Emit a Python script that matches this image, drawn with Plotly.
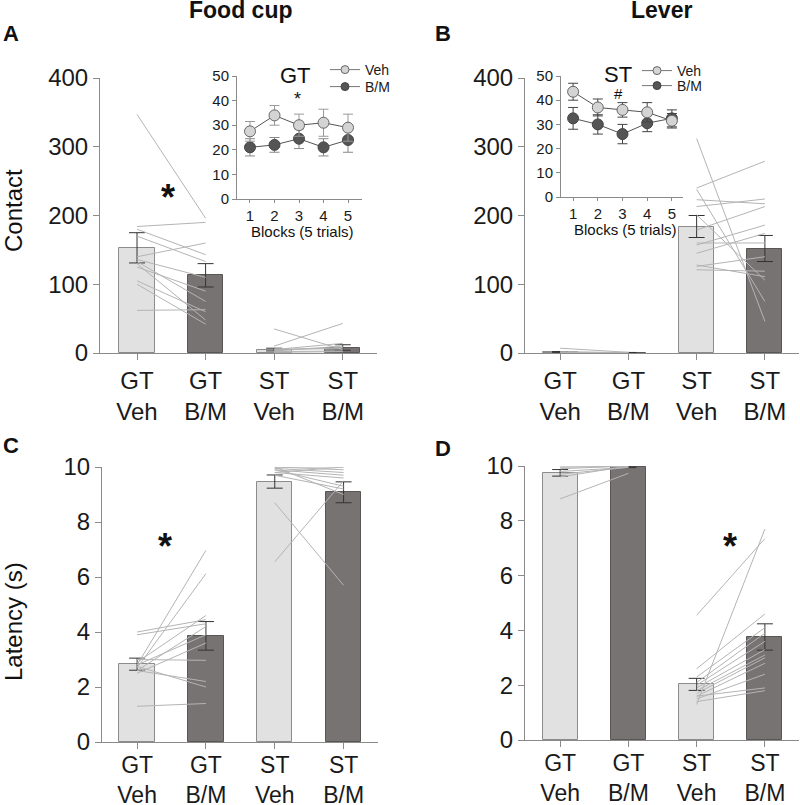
import plotly.graph_objects as go

W, H = 800, 805
FONT = "Liberation Sans, Arial, sans-serif"

# ---------------- data ----------------
cat_pos = [0, 1, 2, 3]
cat_labels = ["GT<br>Veh", "GT<br>B/M", "ST<br>Veh", "ST<br>B/M"]
blocks = [1, 2, 3, 4, 5]

# A: Food cup contact
a_mean = [153, 113, 5, 8]
a_sem = [22, 17, 2, 4]
a_gt_veh = [347, 184, 180, 170, 140, 136, 133, 130, 105, 100, 62, 125]
a_gt_bm = [196, 190, 143, 133, 160, 110, 75, 48, 60, 42, 63, 90]
a_st_veh = [35, 10, 5, 3, 2, 1, 4, 6]
a_st_bm = [5, 43, 14, 10, 3, 2, 8, 6]

# B: Lever contact
b_mean = [1.5, 0.5, 184, 152]
b_sem = [0.6, 0.3, 16, 19]
b_gt_veh = [7, 2, 1, 0.5]
b_gt_bm = [1, 0.5, 0.5, 0.2]
b_st_veh = [312, 240, 238, 223, 213, 201, 179, 157, 145, 128, 126, 121, 160]
b_st_bm = [46, 279, 75, 217, 224, 106, 213, 186, 174, 111, 140, 119, 160]

# C: Food cup latency
c_mean = [2.83, 3.86, 9.47, 9.08]
c_sem = [0.22, 0.52, 0.24, 0.38]
c_gt_veh = [2.8, 2.7, 4.0, 2.9, 2.6, 2.8, 2.5, 3.0, 2.6, 2.75, 1.3, 3.9]
c_gt_bm = [6.97, 6.12, 4.45, 4.6, 4.2, 3.9, 3.6, 2.97, 2.2, 2.0, 1.4, 4.3]
c_st_veh = [8.7, 6.55, 10, 10, 9.9, 9.8, 9.7, 10, 9.9, 9.8, 9.95]
c_st_bm = [5.7, 9.5, 10, 9.9, 9.3, 9.6, 9.2, 9.0, 9.7, 10, 9.8]

# D: Lever latency
d_mean = [9.75, 9.97, 2.03, 3.76]
d_sem = [0.12, 0.03, 0.22, 0.48]
d_gt_veh = [8.8, 9.7, 9.6, 10, 9.9, 9.8, 9.95]
d_gt_bm = [9.73, 9.95, 10, 10, 10, 9.95, 10]
d_st_veh = [4.55, 1.3, 2.6, 2.3, 2.1, 2.0, 1.9, 1.8, 1.7, 1.6, 1.5, 1.4, 1.6]
d_st_bm = [7.35, 7.7, 4.6, 4.1, 3.9, 3.6, 3.3, 3.1, 3.0, 2.8, 2.4, 1.8, 1.9]

# Insets (contacts per block)
gt_blk_veh = [27.5, 34, 30, 31, 29]
gt_blk_veh_err = [4, 4, 4.5, 5.5, 5.5]
gt_blk_bm = [21, 22, 24.5, 21, 24]
gt_blk_bm_err = [3.5, 3, 4, 3.5, 5]
st_blk_veh = [43.5, 37, 36, 35, 31.5]
st_blk_veh_err = [3.5, 3.5, 3, 4, 3]
st_blk_bm = [32.5, 30, 26, 30.5, 32.5]
st_blk_bm_err = [4.5, 4, 4, 3.5, 3.5]

# ---------------- helpers ----------------
def px(x):
    return x / W

def py(y):
    return 1 - y / H

VEH_COL = "#e1e1e1"
BM_COL = "#787373"
LINE_COL = "#b4b4b4"
AX_COL = "#8a8a8a"

fig = go.Figure()

def add_panel(idx, mean, sem, gt_veh, gt_bm, st_veh, st_bm):
    xa = "x" if idx == 1 else f"x{idx}"
    ya = "y" if idx == 1 else f"y{idx}"
    fig.add_trace(go.Bar(
        x=cat_pos, y=mean, width=0.515, xaxis=xa, yaxis=ya,
        marker=dict(color=[VEH_COL, BM_COL, VEH_COL, BM_COL],
                    line=dict(color=["#8c8c8c", "#5a5656", "#8c8c8c", "#5a5656"], width=1)),
        error_y=dict(type="data", array=sem, color="#333333", thickness=1, width=8),
        showlegend=False, hoverinfo="skip"))
    for (v, b, x0, x1) in [(gt_veh, gt_bm, cat_pos[0], cat_pos[1]),
                           (st_veh, st_bm, cat_pos[2], cat_pos[3])]:
        xs, ys = [], []
        for a, c in zip(v, b):
            xs += [x0, x1, None]
            ys += [a, c, None]
        fig.add_trace(go.Scatter(x=xs, y=ys, mode="lines", xaxis=xa, yaxis=ya,
                                 line=dict(color=LINE_COL, width=1),
                                 showlegend=False, hoverinfo="skip"))

add_panel(1, a_mean, a_sem, a_gt_veh, a_gt_bm, a_st_veh, a_st_bm)
add_panel(2, b_mean, b_sem, b_gt_veh, b_gt_bm, b_st_veh, b_st_bm)
add_panel(3, c_mean, c_sem, c_gt_veh, c_gt_bm, c_st_veh, c_st_bm)
add_panel(4, d_mean, d_sem, d_gt_veh, d_gt_bm, d_st_veh, d_st_bm)

VEH_MK = dict(color="#d4d4d4", line=dict(color="#666666", width=1))
BM_MK = dict(color="#555555", line=dict(color="#444444", width=1))

def add_inset(idx, veh, veh_err, bm, bm_err, leg_veh, leg_bm, veh_err_col, bm_err_col):
    xa, ya = f"x{idx}", f"y{idx}"
    fig.add_trace(go.Scatter(
        x=blocks, y=bm, mode="lines+markers", name="B/M", xaxis=xa, yaxis=ya,
        line=dict(color="#555555", width=1), marker=dict(size=11, **BM_MK),
        error_y=dict(type="data", array=bm_err, color=bm_err_col, thickness=1, width=5),
        showlegend=False, hoverinfo="skip"))
    fig.add_trace(go.Scatter(
        x=blocks, y=veh, mode="lines+markers", name="Veh", xaxis=xa, yaxis=ya,
        line=dict(color="#555555", width=1), marker=dict(size=11, **VEH_MK),
        error_y=dict(type="data", array=veh_err, color=veh_err_col, thickness=1, width=5),
        showlegend=False, hoverinfo="skip"))
    # legend-only entries (smaller symbols, as in the figure key)
    fig.add_trace(go.Scatter(x=[None], y=[None], mode="lines+markers", name="Veh",
                             xaxis=xa, yaxis=ya, line=dict(color="#777777", width=1),
                             marker=dict(size=8, **VEH_MK), legend=leg_veh))
    fig.add_trace(go.Scatter(x=[None], y=[None], mode="lines+markers", name="B/M",
                             xaxis=xa, yaxis=ya, line=dict(color="#777777", width=1),
                             marker=dict(size=8, **BM_MK), legend=leg_bm))

add_inset(5, gt_blk_veh, gt_blk_veh_err, gt_blk_bm, gt_blk_bm_err, "legend", "legend2", "#999999", "#888888")
add_inset(6, st_blk_veh, st_blk_veh_err, st_blk_bm, st_blk_bm_err, "legend3", "legend4", "#444444", "#444444")

main_x = dict(showline=True, linecolor=AX_COL, linewidth=1, ticks="outside", ticklen=6,
              tickcolor=AX_COL, showgrid=False, zeroline=False, automargin=False,
              tickvals=cat_pos, ticktext=cat_labels,
              tickfont=dict(family=FONT, size=24, color="#1a1a1a"))
low_x = dict(main_x, tickfont=dict(family=FONT, size=23, color="#1a1a1a"), ticklabelstandoff=-4)
main_y = dict(showline=True, linecolor=AX_COL, linewidth=1, ticks="outside", ticklen=6,
              tickcolor=AX_COL, showgrid=False, zeroline=False, automargin=False,
              tickfont=dict(family=FONT, size=24, color="#1a1a1a"))
inset_x = dict(showline=True, linecolor=AX_COL, linewidth=1, ticks="outside", ticklen=3,
               tickcolor=AX_COL, showgrid=False, zeroline=False, tickvals=blocks, automargin=False,
               tickfont=dict(family=FONT, size=15, color="#1a1a1a"))
inset_y = dict(showline=True, linecolor=AX_COL, linewidth=1, ticks="outside", ticklen=4,
               tickcolor=AX_COL, showgrid=False, zeroline=False, range=[0, 50], automargin=False,
               tickvals=[0, 10, 20, 30, 40, 50],
               tickfont=dict(family=FONT, size=15, color="#1a1a1a"))

def leg(x, y):
    return dict(x=px(x), y=py(y), xanchor="left", yanchor="middle", bgcolor="rgba(0,0,0,0)",
                font=dict(family=FONT, size=14, color="#1a1a1a"), itemwidth=30)

fig.update_layout(
    width=W, height=H, margin=dict(l=0, r=0, t=0, b=0, autoexpand=False),
    paper_bgcolor="white", plot_bgcolor="rgba(0,0,0,0)",
    bargap=0,
    xaxis=dict(main_x, domain=[px(100), px(377)], range=[-0.54, 3.5], anchor="y"),
    yaxis=dict(main_y, domain=[py(353), py(78)], range=[0, 400], tickvals=[0, 100, 200, 300, 400], anchor="x"),
    xaxis2=dict(main_x, domain=[px(525), px(799)], range=[-0.515, 3.5], anchor="y2"),
    yaxis2=dict(main_y, domain=[py(353), py(78)], range=[0, 400], tickvals=[0, 100, 200, 300, 400], anchor="x2"),
    xaxis3=dict(low_x, domain=[px(102), px(378)], range=[-0.51, 3.5], anchor="y3"),
    yaxis3=dict(main_y, domain=[py(742), py(467)], range=[0, 10], tickvals=[0, 2, 4, 6, 8, 10], anchor="x3"),
    xaxis4=dict(low_x, domain=[px(525), px(799)], range=[-0.515, 3.5], anchor="y4"),
    yaxis4=dict(main_y, domain=[py(740), py(466)], range=[0, 10], tickvals=[0, 2, 4, 6, 8, 10], anchor="x4"),
    xaxis5=dict(inset_x, domain=[px(237), px(362)], range=[0.47, 5.57], anchor="y5"),
    yaxis5=dict(inset_y, domain=[py(199), py(76)], anchor="x5"),
    xaxis6=dict(inset_x, domain=[px(561), px(683)], range=[0.51, 5.45], anchor="y6"),
    yaxis6=dict(inset_y, domain=[py(197), py(76)], anchor="x6"),
    legend=leg(325, 70),
    legend2=leg(325, 87),
    legend3=leg(637, 71),
    legend4=leg(637, 86),
)

def ann(text, x, y, size, bold=False, angle=0, color="#111111"):
    fig.add_annotation(text=f"<b>{text}</b>" if bold else text, x=px(x), y=py(y),
                       xref="paper", yref="paper", showarrow=False, textangle=angle,
                       font=dict(family=FONT, size=size, color=color),
                       xanchor="center", yanchor="middle")

ann("Food cup", 240, 10, 23, bold=True)
ann("Lever", 661, 10, 23, bold=True)
ann("A", 11, 34, 22, bold=True)
ann("B", 443, 34, 22, bold=True)
ann("C", 11, 445, 22, bold=True)
ann("D", 443, 448, 22, bold=True)
ann("Contact", 13, 211, 24, angle=-90)
ann("Latency (s)", 13, 622, 24, angle=-90)
ann("*", 168, 198, 36, bold=True)
ann("*", 165, 546, 36, bold=True)
ann("*", 730, 546, 36, bold=True)
ann("*", 297, 99, 18)
ann("#", 618, 94, 15)
ann("GT", 295, 76, 22)
ann("ST", 618, 75, 22)
ann("Blocks (5 trials)", 302, 231, 15)
ann("Blocks (5 trials)", 625, 229, 15)

# remove the default 8 px page margin so the figure fills the window exactly
fig.write_html("out.html", config={"displayModeBar": False},
               post_script="document.body.style.margin='0';document.body.style.overflow='hidden';")
